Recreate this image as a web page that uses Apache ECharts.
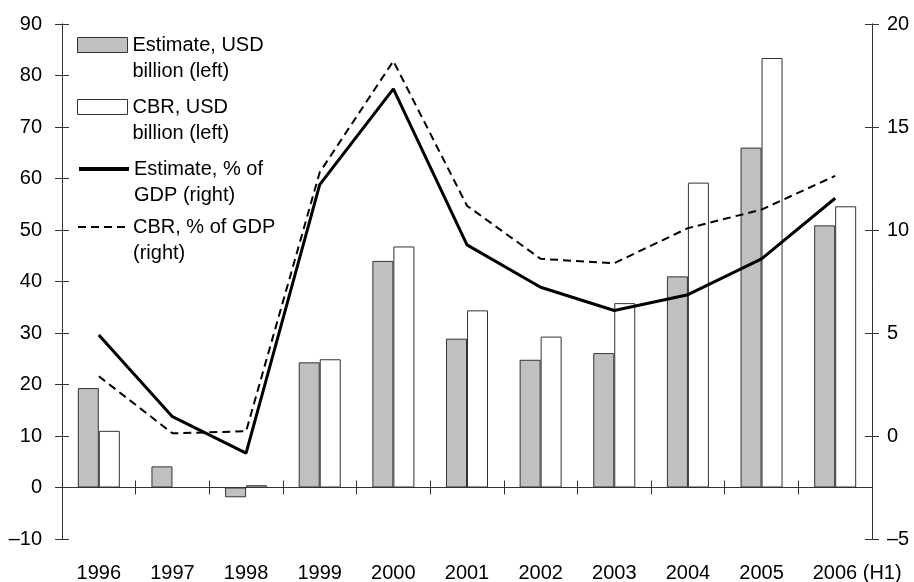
<!DOCTYPE html>
<html>
<head>
<meta charset="utf-8">
<script src="https://cdn.jsdelivr.net/npm/echarts@6/dist/echarts.min.js"></script>
<style>
  html, body { margin: 0; padding: 0; background: #fff; }
  #chart { width: 914px; height: 582px; }
</style>
</head>
<body>
<div id="chart"></div>
<script>
const categories = ['1996', '1997', '1998', '1999', '2000', '2001', '2002', '2003', '2004', '2005', '2006 (H1)'];
// USD billion, left axis
const estimateUsd = [19.3, 4.1, -1.9, 24.3, 44.0, 28.9, 24.8, 26.1, 41.0, 66.0, 50.9];
const cbrUsd = [11.0, null, 0.45, 24.9, 46.8, 34.4, 29.3, 35.8, 59.2, 83.4, 54.6];
// % of GDP, right axis
const estimateGdp = [4.9, 0.94, -0.83, 12.2, 16.85, 9.28, 7.22, 6.09, 6.86, 8.6, 11.54];
const cbrGdp = [2.9, 0.13, 0.23, 12.8, 18.2, 11.18, 8.6, 8.39, 10.09, 10.99, 12.63];

const names = [
  'Estimate, USD billion (left)',
  'CBR, USD billion (left)',
  'Estimate, % of GDP (right)',
  'CBR, % of GDP (right)'
];
// blank first line so the icon sits level with the first real line
const legendLines = {
  'Estimate, USD billion (left)': ' \nEstimate, USD\nbillion (left)',
  'CBR, USD billion (left)': ' \nCBR, USD\nbillion (left)',
  'Estimate, % of GDP (right)': ' \nEstimate, % of\nGDP (right)',
  'CBR, % of GDP (right)': ' \nCBR, % of GDP\n(right)'
};
const legendTops = [45, 107, 169, 227]; // icon centre

const FONT = 'Liberation Sans, Arial, sans-serif';
const AXIS = '#333';
const BAR_FILL = ['#c0c0c0', '#fff'];
const dash = v => String(v).replace('-', '\u2013');

const chart = echarts.init(document.getElementById('chart'));

function legendFor(i) {
  const isLine = i >= 2;
  return {
    data: [names[i]],
    left: 77,
    top: legendTops[i] - 39,
    padding: 0,
    selectedMode: false,
    orient: 'vertical',
    itemWidth: 50,
    itemHeight: 15,
    icon: isLine ? undefined : 'rect',
    itemStyle: isLine
      ? { opacity: 0 }
      : { color: BAR_FILL[i], borderColor: '#333', borderWidth: 1 },
    lineStyle: isLine
      ? { color: '#000', width: i === 2 ? 4 : 2, type: i === 2 ? 'solid' : [8, 5] }
      : undefined,
    formatter: n => legendLines[n],
    textStyle: { fontFamily: FONT, fontSize: 20, color: '#000', lineHeight: 26 }
  };
}

function yAxisFor(pos, min, max, interval, inside, showLabel, margin) {
  return {
    type: 'value', position: pos, min, max, interval,
    axisLine: { show: true, onZero: false, lineStyle: { color: AXIS, width: 1 } },
    axisTick: { show: true, inside, length: 7, lineStyle: { color: AXIS } },
    splitLine: { show: false },
    axisLabel: {
      show: showLabel, margin, fontFamily: FONT, fontSize: 20, color: '#000',
      formatter: dash
    }
  };
}

function xAxisFor(inside) {
  return {
    type: 'category', data: categories, position: 'bottom',
    axisLine: { onZero: true, onZeroAxisIndex: 0, lineStyle: { color: AXIS, width: 1 } },
    axisTick: { show: true, inside, length: 7, interval: 0, lineStyle: { color: AXIS } },
    axisLabel: { show: false }
  };
}

chart.setOption({
  animation: false,
  backgroundColor: '#fff',
  grid: {
    left: 62, right: 42, top: 24, bottom: 43,
    containLabel: false, outerBoundsMode: 'none'
  },
  legend: [0, 1, 2, 3].map(legendFor),
  xAxis: [
    xAxisFor(false),
    xAxisFor(true),
    {
      type: 'category', data: categories, position: 'bottom',
      axisLine: { show: false, onZero: false },
      axisTick: { show: false },
      axisLabel: {
        show: true, interval: 0, margin: 24, fontFamily: FONT, fontSize: 20, color: '#000',
        // the year part of "2006 (H1)" sits under its bars
        formatter: v => v.indexOf(' ') > 0 ? '{h|' + v + '}' : v,
        rich: { h: { fontFamily: FONT, fontSize: 20, color: '#000', padding: [0, 0, 0, 44] } }
      }
    }
  ],
  yAxis: [
    yAxisFor('left', -10, 90, 10, false, true, 20),
    yAxisFor('right', -5, 20, 5, false, true, 15),
    yAxisFor('left', -10, 90, 10, true, false, 20),
    yAxisFor('right', -5, 20, 5, true, false, 15)
  ],
  series: [
    {
      name: names[0], type: 'bar', xAxisIndex: 0, yAxisIndex: 0,
      data: estimateUsd, barWidth: 21, barGap: '0%',
      itemStyle: { color: BAR_FILL[0], borderColor: '#333', borderWidth: 1 }
    },
    {
      name: names[1], type: 'bar', xAxisIndex: 0, yAxisIndex: 0,
      data: cbrUsd, barWidth: 21, barGap: '0%',
      itemStyle: { color: BAR_FILL[1], borderColor: '#333', borderWidth: 1 }
    },
    {
      name: names[2], type: 'line', xAxisIndex: 0, yAxisIndex: 1,
      data: estimateGdp, symbol: 'none',
      lineStyle: { color: '#000', width: 3 }, itemStyle: { color: '#000' }
    },
    {
      name: names[3], type: 'line', xAxisIndex: 0, yAxisIndex: 1,
      data: cbrGdp, symbol: 'none',
      lineStyle: { color: '#000', width: 2, type: [8, 5] }, itemStyle: { color: '#000' }
    }
  ]
});
</script>
</body>
</html>
